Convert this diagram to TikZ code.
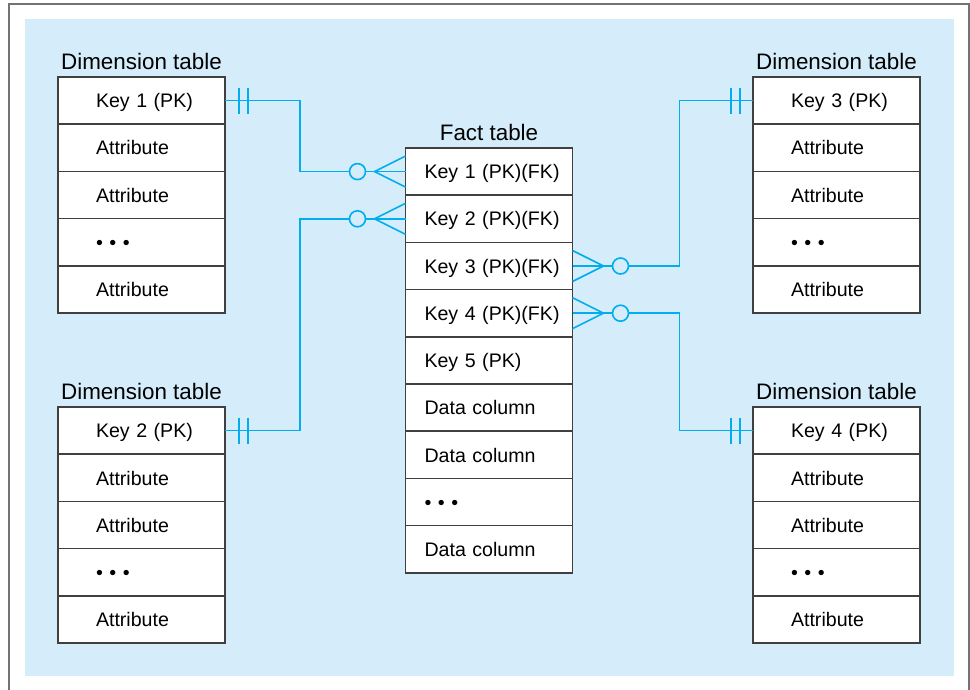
\documentclass[tikz,border=0pt]{standalone}
\usepackage{fontspec}
\setmainfont{Liberation Sans}
\usetikzlibrary{positioning}

\definecolor{sfondo}{RGB}{213,236,250}
\definecolor{ciano}{RGB}{0,174,239}

\tikzset{
  cella/.style={draw=black!75, line width=0.8pt, fill=white, outer sep=0pt,
    inner xsep=0pt, inner ysep=0pt, minimum height=23.6pt, text width=83.5pt,
    align=left, text height=9.3pt, text depth=2.1pt,
    font=\fontsize{9.8}{12}\selectfont},
  dimcella/.style={cella, execute at begin node={\noindent\hspace*{19pt}}},
  factcella/.style={cella, execute at begin node={\noindent\hspace*{9.5pt}}},
  titolo/.style={font=\fontsize{11.2}{13}\selectfont},
  legame/.style={draw=ciano, line width=0.8pt},
}

\newcommand{\puntini}{\textbullet\ \textbullet\ \textbullet}

\begin{document}
\begin{tikzpicture}[x=0.5pt, y=-0.5pt]
    \useasboundingbox (0,0) rectangle (970,690);
    \clip (0,0) rectangle (970,690);

    % cornice
    \draw[black!55, line width=0.6pt] (9,700) -- (9,4) -- (969,4) -- (969,700);

    % sfondo
    \fill[sfondo] (25,19) rectangle (954,676);

    % tabella dimensione 1
    \node[dimcella, anchor=north west] (la1) at (58,77) {Key 1 (PK)};
    \node[dimcella, below=0pt of la1] (la2) {Attribute};
    \node[dimcella, below=0pt of la2] (la3) {Attribute};
    \node[dimcella, below=0pt of la3] (la4) {\puntini};
    \node[dimcella, below=0pt of la4] (la5) {Attribute};
    \node[titolo, above=0pt of la1] (tla) {Dimension table};

    % tabella dimensione 2
    \node[dimcella, anchor=north west] (lb1) at (58,407) {Key 2 (PK)};
    \node[dimcella, below=0pt of lb1] (lb2) {Attribute};
    \node[dimcella, below=0pt of lb2] (lb3) {Attribute};
    \node[dimcella, below=0pt of lb3] (lb4) {\puntini};
    \node[dimcella, below=0pt of lb4] (lb5) {Attribute};
    \node[titolo, above=0pt of lb1] (tlb) {Dimension table};

    % tabella dimensione 3
    \node[dimcella, anchor=north west] (ra1) at (753,77) {Key 3 (PK)};
    \node[dimcella, below=0pt of ra1] (ra2) {Attribute};
    \node[dimcella, below=0pt of ra2] (ra3) {Attribute};
    \node[dimcella, below=0pt of ra3] (ra4) {\puntini};
    \node[dimcella, below=0pt of ra4] (ra5) {Attribute};
    \node[titolo, above=0pt of ra1] (tra) {Dimension table};

    % tabella dimensione 4
    \node[dimcella, anchor=north west] (rb1) at (753,407) {Key 4 (PK)};
    \node[dimcella, below=0pt of rb1] (rb2) {Attribute};
    \node[dimcella, below=0pt of rb2] (rb3) {Attribute};
    \node[dimcella, below=0pt of rb3] (rb4) {\puntini};
    \node[dimcella, below=0pt of rb4] (rb5) {Attribute};
    \node[titolo, above=0pt of rb1] (trb) {Dimension table};

    % tabella dei fatti
    \node[factcella, anchor=north west] (f1) at (405.5,148) {Key 1 (PK)(FK)};
    \node[factcella, below=0pt of f1] (f2) {Key 2 (PK)(FK)};
    \node[factcella, below=0pt of f2] (f3) {Key 3 (PK)(FK)};
    \node[factcella, below=0pt of f3] (f4) {Key 4 (PK)(FK)};
    \node[factcella, below=0pt of f4] (f5) {Key 5 (PK)};
    \node[factcella, below=0pt of f5] (f6) {Data column};
    \node[factcella, below=0pt of f6] (f7) {Data column};
    \node[factcella, below=0pt of f7] (f8) {\puntini};
    \node[factcella, below=0pt of f8] (f9) {Data column};
    \node[titolo, above=0pt of f1] (tf) {Fact table};

    % collegamenti
    \draw[legame] (la1.east) -- ++(75,0) |- (f1.west);
    \draw[legame] (lb1.east) -- ++(75,0) |- (f2.west);
    \draw[legame] (f3.east) -- ++(107,0) |- (ra1.west);
    \draw[legame] (f4.east) -- ++(107,0) |- (rb1.west);

    % lato uno
    \draw[legame] ([shift={(14,-13)}]la1.east) -- ++(0,26) ([shift={(23,-13)}]la1.east) -- ++(0,26);
    \draw[legame] ([shift={(14,-13)}]lb1.east) -- ++(0,26) ([shift={(23,-13)}]lb1.east) -- ++(0,26);
    \draw[legame] ([shift={(-13,-13)}]ra1.west) -- ++(0,26) ([shift={(-22,-13)}]ra1.west) -- ++(0,26);
    \draw[legame] ([shift={(-13,-13)}]rb1.west) -- ++(0,26) ([shift={(-22,-13)}]rb1.west) -- ++(0,26);

    % lato molti
    \draw[legame] ([shift={(0,-15.5)}]f1.west) -- ([shift={(-31,0)}]f1.west) -- ([shift={(0,15.5)}]f1.west);
    \draw[legame] ([shift={(0,-15.5)}]f2.west) -- ([shift={(-31,0)}]f2.west) -- ([shift={(0,15.5)}]f2.west);
    \draw[legame] ([shift={(0,-15.5)}]f3.east) -- ([shift={(31,0)}]f3.east) -- ([shift={(0,15.5)}]f3.east);
    \draw[legame] ([shift={(0,-15.5)}]f4.east) -- ([shift={(31,0)}]f4.east) -- ([shift={(0,15.5)}]f4.east);
    \draw[legame, fill=sfondo] ([shift={(-48,0)}]f1.west) circle (4pt);
    \draw[legame, fill=sfondo] ([shift={(-48,0)}]f2.west) circle (4pt);
    \draw[legame, fill=sfondo] ([shift={(48,0)}]f3.east) circle (4pt);
    \draw[legame, fill=sfondo] ([shift={(48,0)}]f4.east) circle (4pt);
\end{tikzpicture}
\end{document}
